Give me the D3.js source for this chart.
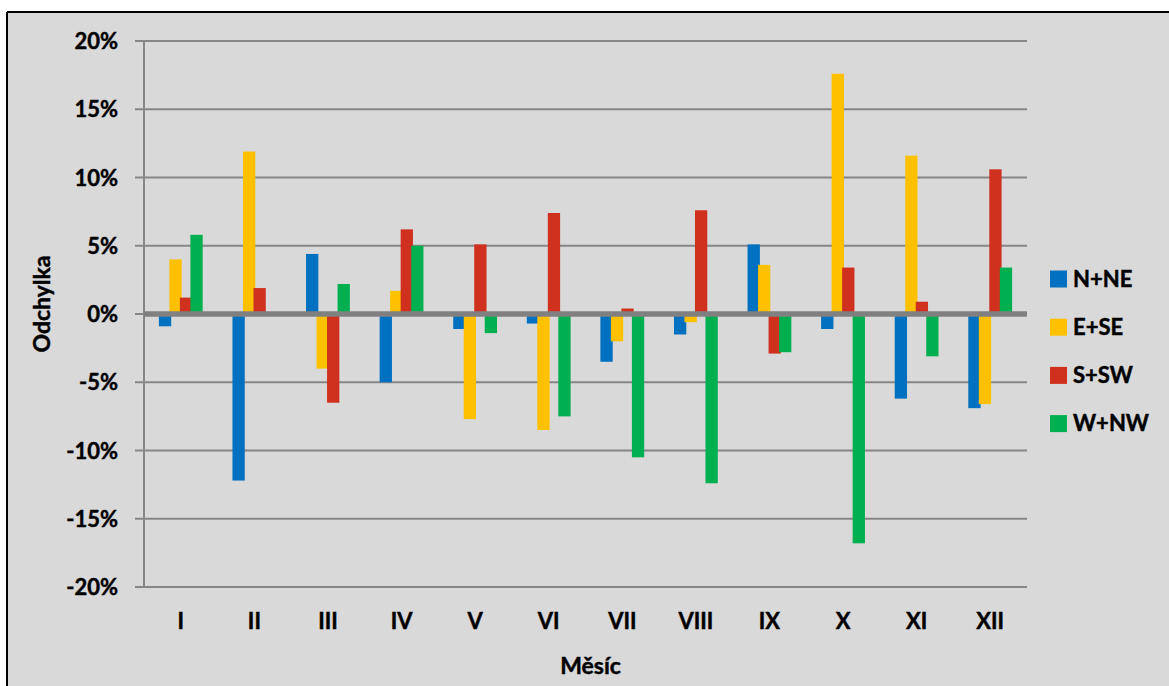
<!DOCTYPE html>
<html>
<head>
<meta charset="utf-8">
<script src="https://cdn.jsdelivr.net/npm/d3@7"></script>
<style>
  html, body { margin: 0; padding: 0; background: #ffffff; }
  svg { display: block; }
  text { font-family: Lato, "Open Sans", sans-serif; font-weight: bold; fill: #000; stroke: #000; stroke-width: 0.45px; }
</style>
</head>
<body>
<svg id="chart" width="1169" height="686"></svg>
<script>
// Months (Roman numerals) and wind-direction groups
const months = ["I", "II", "III", "IV", "V", "VI", "VII", "VIII", "IX", "X", "XI", "XII"];
const seriesNames = ["N+NE", "E+SE", "S+SW", "W+NW"];
const seriesColors = ["#0070C0", "#FFC000", "#D0301E", "#00B050"];

// Monthly deviation (%) per direction group
const nNE = [-0.9, -12.2, 4.4, -5.0, -1.1, -0.7, -3.5, -1.5, 5.1, -1.1, -6.2, -6.9];
const eSE = [4.0, 11.9, -4.0, 1.7, -7.7, -8.5, -2.0, -0.6, 3.6, 17.6, 11.6, -6.6];
const sSW = [1.2, 1.9, -6.5, 6.2, 5.1, 7.4, 0.4, 7.6, -2.9, 3.4, 0.9, 10.6];
const wNW = [5.8, 0.0, 2.2, 5.0, -1.4, -7.5, -10.5, -12.4, -2.8, -16.8, -3.1, 3.4];

// Y axis ticks (percent)
const yTicks = [-20, -15, -10, -5, 0, 5, 10, 15, 20];

const seriesValues = [nNE, eSE, sSW, wNW];

const svg = d3.select("#chart");
const W = 1169, H = 686;
const FS = 22;

// Chart area background with black frame on the top/left
svg.append("rect")
  .attr("x", 7).attr("y", 12)
  .attr("width", W - 7).attr("height", H - 12)
  .attr("fill", "#D9D9D9");
svg.append("line").attr("x1", 7).attr("x2", W).attr("y1", 12).attr("y2", 12)
  .attr("stroke", "#000").attr("stroke-width", 2);
svg.append("line").attr("x1", 7).attr("x2", 7).attr("y1", 12).attr("y2", H)
  .attr("stroke", "#000").attr("stroke-width", 2);

const plot = { left: 144, right: 1027, top: 41, bottom: 587 };

const x = d3.scaleBand().domain(months).range([plot.left, plot.right]).paddingInner(0).paddingOuter(0);
const y = d3.scaleLinear().domain([-20, 20]).range([plot.bottom, plot.top]);

// Bars overlap slightly within each month group
const barW = 12.3;
const xs = d3.scalePoint().domain(seriesNames).range([-21.9, 9.6]);

// Horizontal gridlines with short ticks at the left
const grid = svg.append("g");
grid.selectAll("line.grid")
  .data(yTicks.filter(t => t !== 0))
  .join("line")
  .attr("class", "grid")
  .attr("x1", plot.left - 9).attr("x2", plot.right)
  .attr("y1", d => y(d)).attr("y2", d => y(d))
  .attr("stroke", "#868686").attr("stroke-width", 2);

// Vertical axis line
svg.append("line")
  .attr("x1", plot.left).attr("x2", plot.left)
  .attr("y1", plot.top).attr("y2", plot.bottom)
  .attr("stroke", "#868686").attr("stroke-width", 2);

// Y tick labels
const yAxis = d3.axisLeft(y).tickValues(yTicks).tickSize(0).tickPadding(0)
  .tickFormat(d => d + "%");
const yAxisG = svg.append("g").attr("transform", `translate(${118},0)`).call(yAxis);
yAxisG.select(".domain").remove();
yAxisG.selectAll("text")
  .attr("font-family", "Lato, sans-serif").attr("font-weight", "bold")
  .attr("font-size", FS).attr("fill", "#000").attr("dy", "0.35em");

// Bars
seriesNames.forEach((name, si) => {
  svg.append("g").selectAll("rect")
    .data(months.map((m, i) => ({ m, v: seriesValues[si][i] })))
    .join("rect")
    .attr("x", d => x(d.m) + x.bandwidth() / 2 + xs(name))
    .attr("width", barW)
    .attr("y", d => y(Math.max(0, d.v)))
    .attr("height", d => Math.abs(y(d.v) - y(0)))
    .attr("fill", seriesColors[si]);
});

// Zero line (thick) drawn over bars
svg.append("line")
  .attr("x1", plot.left - 9).attr("x2", plot.left)
  .attr("y1", y(0)).attr("y2", y(0))
  .attr("stroke", "#868686").attr("stroke-width", 2);
svg.append("line")
  .attr("x1", plot.left).attr("x2", plot.right)
  .attr("y1", y(0)).attr("y2", y(0))
  .attr("stroke", "#808080").attr("stroke-width", 5.5);

// X tick labels
const xAxis = d3.axisBottom(x).tickSize(0).tickPadding(0);
const xAxisG = svg.append("g").attr("transform", `translate(0,${621})`).call(xAxis);
xAxisG.select(".domain").remove();
xAxisG.selectAll("text")
  .attr("font-family", "Lato, sans-serif").attr("font-weight", "bold")
  .attr("font-size", FS).attr("fill", "#000").attr("dy", "0.35em");

// Axis titles
svg.append("text")
  .attr("x", (plot.left + plot.right) / 2 + 5).attr("y", 666)
  .attr("dy", "0.35em").attr("text-anchor", "middle")
  .attr("font-size", 23).text("Měsíc");
svg.append("text")
  .attr("transform", `translate(42,${304}) rotate(-90)`)
  .attr("dy", "0.35em").attr("text-anchor", "middle")
  .attr("font-size", 23).text("Odchylka");

// Legend
const legend = svg.append("g").selectAll("g")
  .data(seriesNames)
  .join("g")
  .attr("transform", (d, i) => `translate(1050,${279 + i * 48.2})`);
legend.append("rect")
  .attr("x", 0).attr("y", -8.5).attr("width", 17).attr("height", 17)
  .attr("fill", (d, i) => seriesColors[i]);
legend.append("text")
  .attr("x", 23).attr("y", 0).attr("dy", "0.35em")
  .attr("font-size", FS).text(d => d);
</script>
</body>
</html>
